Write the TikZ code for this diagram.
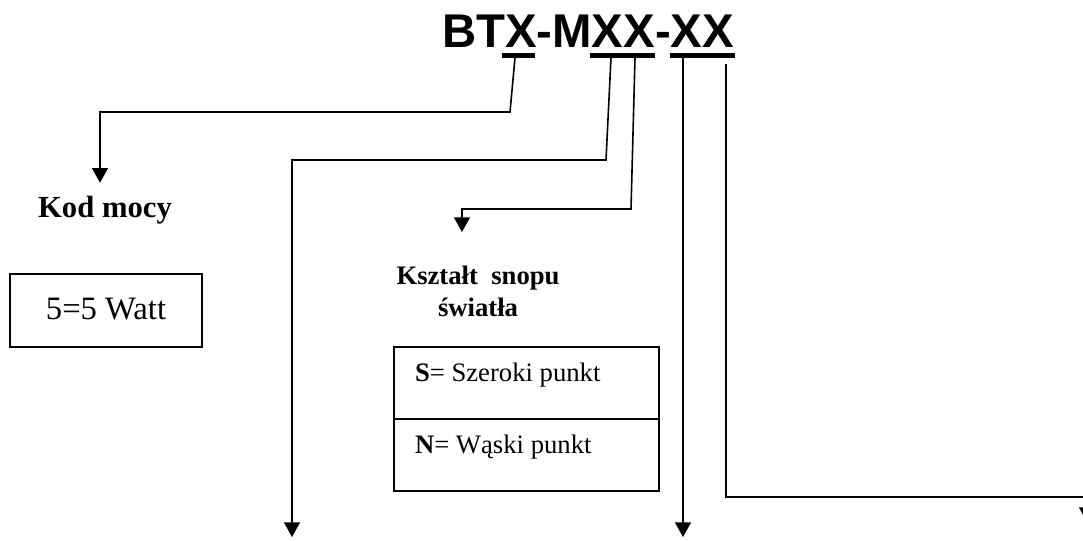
\documentclass[tikz,border=0pt]{standalone}
\usepackage{fontspec}
\setmainfont{Liberation Serif}
\newfontfamily\titrefont{Liberation Sans}
\usetikzlibrary{arrows.meta, positioning}

\tikzset{
  fleche/.style={line width=1.2pt, -{Triangle[width=12pt, length=11pt]}},
  barre/.style={line width=3.75pt},
  boite/.style={draw, line width=1.1pt, inner sep=0pt, outer sep=0pt},
  cellule/.style={boite, anchor=north west, minimum height=54pt, minimum width=198.75pt,
    text height=13pt, text depth=14.5pt, font=\fontsize{20}{24}\selectfont},
  etiquette/.style={inner sep=0pt, outer sep=0pt},
}
\newcommand{\casetexte}[1]{\makebox[167.25pt][l]{#1}}

\begin{document}
\begin{tikzpicture}[x=0.75pt, y=-0.75pt]

    \useasboundingbox (0,0) rectangle (1083,541);

    % Titre
    \node[etiquette, anchor=base, font=\fontsize{35.5}{40}\selectfont\titrefont\bfseries] (titre) at (588,48) {BTX-MXX-XX};

    % Soulignements
    \draw[barre] (502,55.5) -- (535,55.5);
    \draw[barre] (590,55.5) -- (655,55.5);
    \draw[barre] (670,55.5) -- (735,55.5);

    % Etiquettes et cases
    \node[etiquette, anchor=base, font=\fontsize{23}{28}\selectfont\bfseries] (kod) at (105,218) {Kod mocy};
    \node[boite, minimum width=144pt, minimum height=54.75pt, text height=16pt, text depth=3pt,
          font=\fontsize{24.5}{28}\selectfont] (watt) at (106,310.5) {5=5 Watt};
    \node[etiquette, anchor=north, align=center, font=\fontsize{20}{24}\selectfont\bfseries] (snop) at (478,266) {Kształt~ snopu\\światła};
    \node[cellule] (szer) at (394,347) {\casetexte{\textbf{S}= Szeroki punkt}};
    \node[cellule, anchor=north] (wask) at (szer.south) {\casetexte{\textbf{N}= Wąski punkt}};

    % Départs et extrémités
    \coordinate (d1) at (515,58);
    \coordinate (d2) at (611,58);
    \coordinate (d3) at (635,58);
    \coordinate (d4) at (683,58);
    \coordinate (d5) at (726,64);
    \coordinate (f2) at (292,537);
    \coordinate (f4) at (683,537);
    \coordinate (f5) at (1087,522);

    % Connecteurs
    \draw[fleche] (d1) -- (510,112) -| ([xshift=-3.75pt, yshift=10.5pt]kod.north);
    \draw[fleche] (d2) -- (606,160) -| (f2);
    \draw[fleche] (d3) -- (631,209) -| ([xshift=-12pt, yshift=25.5pt]snop.north);
    \draw[fleche] (d4) -- (f4);
    \draw[fleche] (d5) -- (726,497) -| (f5);

\end{tikzpicture}
\end{document}
